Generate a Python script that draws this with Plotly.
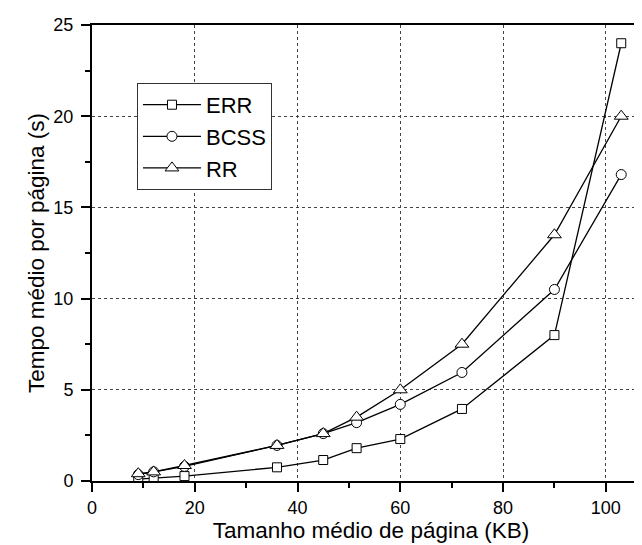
import plotly.graph_objects as go

page_size_kb = [9, 12, 18, 36, 45, 51.5, 60, 72, 90, 103]
err = [0.1, 0.15, 0.27, 0.75, 1.15, 1.8, 2.3, 3.95, 8.0, 24.0]
bcss = [0.35, 0.5, 0.8, 1.95, 2.6, 3.2, 4.2, 5.95, 10.5, 16.8]
rr = [0.4, 0.5, 0.85, 1.95, 2.6, 3.5, 5.0, 7.5, 13.5, 20.0]

series = [("ERR", err, "square", 9), ("BCSS", bcss, "circle", 10), ("RR", rr, "triangle-up", 12)]

fig = go.Figure()
for name, vals, sym, sz in series:
    fig.add_trace(go.Scatter(
        x=page_size_kb, y=vals, name=name, mode="lines+markers",
        line=dict(color="black", width=1.3),
        marker=dict(symbol=sym, size=sz, color="white", line=dict(color="black", width=1)),
    ))

font = "Liberation Sans, Arial, sans-serif"
fig.update_layout(
    width=642, height=545,
    margin=dict(l=84, r=0, t=17, b=72),
    plot_bgcolor="white", paper_bgcolor="white",
    font=dict(family=font, color="black", size=18),
    showlegend=True,
    legend=dict(
        x=0.0806, y=0.873, xanchor="left", yanchor="top",
        bgcolor="white", bordercolor="#333", borderwidth=1,
        font=dict(size=22), itemwidth=58, tracegroupgap=0,
        entrywidth=150, entrywidthmode="pixels",
    ),
    xaxis=dict(
        range=[0, 108.6], tickvals=[0, 20, 40, 60, 80, 100],
        showline=True, linecolor="black", linewidth=2, mirror=True,
        ticks="outside", ticklen=9, tickwidth=2, tickcolor="black",
        minor=dict(dtick=10, tick0=0, ticks="outside", ticklen=5, tickwidth=1.5, tickcolor="black", showgrid=False),
        showgrid=True, gridcolor="#444", griddash="dot", gridwidth=1,
        zeroline=False,
        title=dict(text="Tamanho médio de página (KB)", font=dict(size=22.5), standoff=3),
        tickfont=dict(size=18),
    ),
    yaxis=dict(
        range=[0, 25], tickvals=[0, 5, 10, 15, 20, 25],
        showline=True, linecolor="black", linewidth=2,
        ticks="outside", ticklen=9, tickwidth=2, tickcolor="black",
        minor=dict(dtick=2.5, tick0=0, ticks="outside", ticklen=5, tickwidth=1.5, tickcolor="black", showgrid=False),
        showgrid=True, gridcolor="#444", griddash="dot", gridwidth=1,
        zeroline=False, ticklabelstandoff=4,
        title=dict(text="Tempo médio por página (s)", font=dict(size=22.5), standoff=2),
        tickfont=dict(size=18),
    ),
)

fig.write_html("out.html")
